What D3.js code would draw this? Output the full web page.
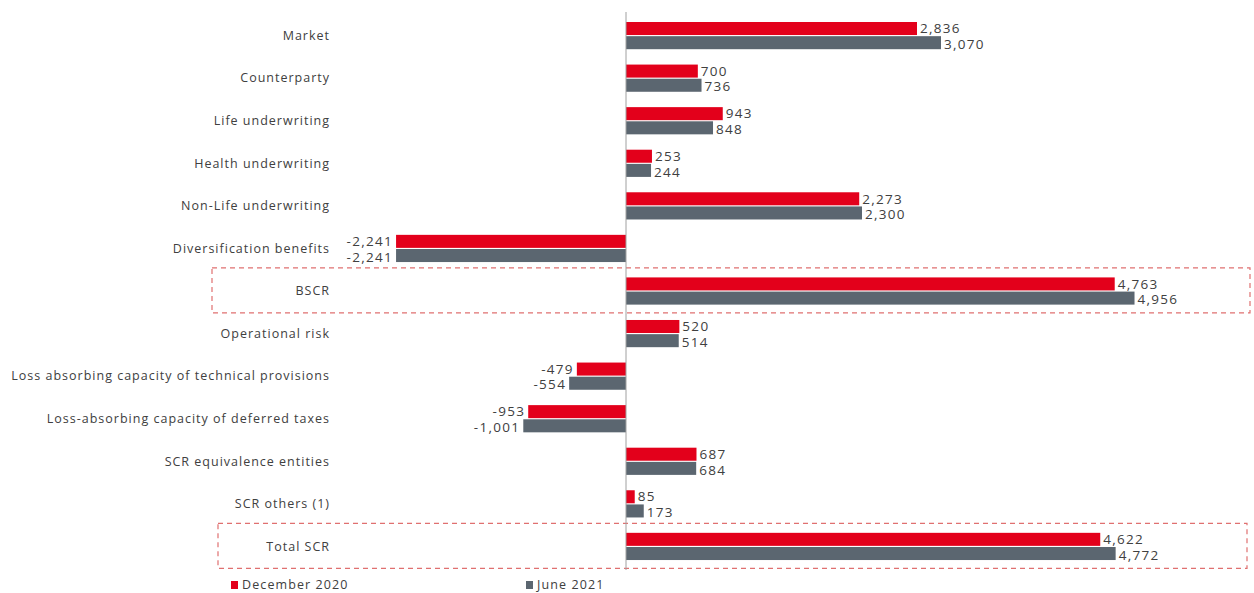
<!DOCTYPE html>
<html><head><meta charset="utf-8">
<script src="https://cdn.jsdelivr.net/npm/d3@7"></script>
<style>body{margin:0;background:#fff}svg{display:block}text{font-family:"Open Sans",sans-serif}</style>
</head><body><svg id="c" width="1254" height="593"></svg>
<script>
const categories = ["Market","Counterparty","Life underwriting","Health underwriting","Non-Life underwriting","Diversification benefits","BSCR","Operational risk","Loss absorbing capacity of technical provisions","Loss-absorbing capacity of deferred taxes","SCR equivalence entities","SCR others (1)","Total SCR"];
const dec2020 = [2836,700,943,253,2273,-2241,4763,520,-479,-953,687,85,4622];
const jun2021 = [3070,736,848,244,2300,-2241,4956,514,-554,-1001,684,173,4772];
const seriesNames = ["December 2020","June 2021"];
const highlighted = ["BSCR","Total SCR"];

const colors = ["#e3001b","#5b6670"];
const svg = d3.select("#c");
const x = d3.scaleLinear().domain([0,3070]).range([626,941]);
const y = d3.scaleBand().domain(categories).range([14.2,567.6]);
const inner = d3.scaleBand().domain([0,1]).range([7.8,35]).paddingInner(0.08);
const fmt = v => (v<0?"-":"") + d3.format(",")(Math.abs(v));

// dashed highlight boxes
const boxes = {"BSCR":[212,1250],"Total SCR":[218,1247]};
highlighted.forEach(c=>{
  const cy = y(c)+y.bandwidth()/2;
  svg.append("rect").attr("x",boxes[c][0]).attr("y",cy-23).attr("width",boxes[c][1]-boxes[c][0]).attr("height",45)
    .attr("fill","none").attr("stroke","#e07070").attr("stroke-width",1.2).attr("stroke-dasharray","5,4");
});

const data = categories.map((c,i)=>({c,vals:[dec2020[i],jun2021[i]]}));
const g = svg.selectAll("g.row").data(data).join("g").attr("transform",d=>`translate(0,${y(d.c)})`);
[0,1].forEach(s=>{
  g.append("rect")
    .attr("x",d=>Math.min(x(0),x(d.vals[s])))
    .attr("y",inner(s)).attr("height",inner.bandwidth())
    .attr("width",d=>Math.abs(x(d.vals[s])-x(0)))
    .attr("fill",colors[s]);
  g.append("text")
    .attr("x",d=>d.vals[s]>=0? x(d.vals[s])+3 : x(d.vals[s])-3)
    .attr("y",inner(s)+inner.bandwidth()/2+(s?1.5:0))
    .attr("dy","0.35em")
    .attr("text-anchor",d=>d.vals[s]>=0?"start":"end")
    .attr("font-size",13.5).attr("letter-spacing","1.3px").attr("fill","#404040")
    .text(d=>fmt(d.vals[s]));
});
g.append("text").attr("x",330).attr("y",y.bandwidth()/2).attr("dy","0.35em")
  .attr("text-anchor","end").attr("font-size",12.5).attr("letter-spacing","1px").attr("fill","#404040").text(d=>d.c);

// zero axis
svg.append("line").attr("x1",x(0)).attr("x2",x(0)).attr("y1",12).attr("y2",570)
  .attr("stroke","#a0a0a0").attr("stroke-width",1);

// legend
const legX = [231,526];
seriesNames.forEach((n,i)=>{
  svg.append("rect").attr("x",legX[i]).attr("y",581).attr("width",7).attr("height",8).attr("fill",colors[i]);
  svg.append("text").attr("x",legX[i]+11).attr("y",585).attr("dy","0.35em").attr("font-size",12.5).attr("letter-spacing","1.1px").attr("fill","#404040").text(n);
});
</script></body></html>
